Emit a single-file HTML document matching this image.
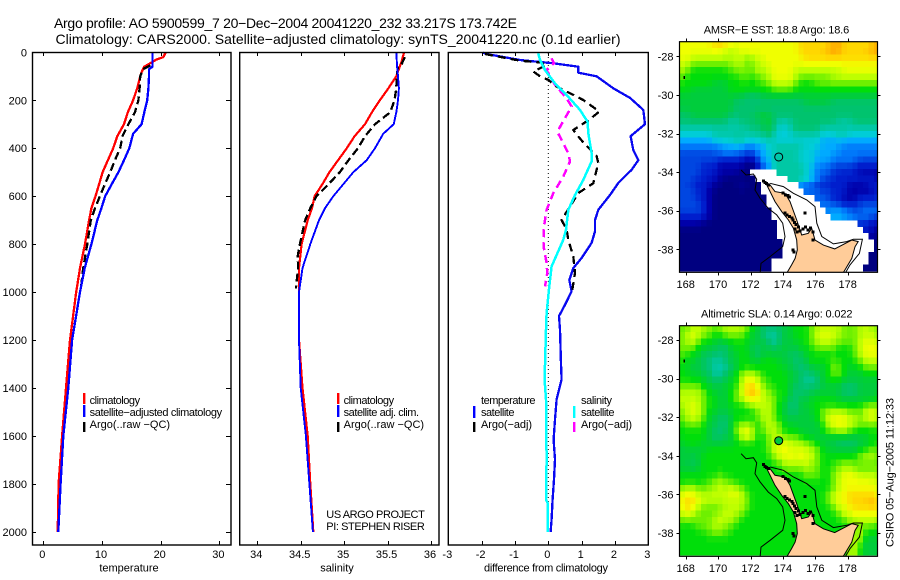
<!DOCTYPE html>
<html>
<head>
<meta charset="utf-8">
<title>Argo profile</title>
<style>
html,body{margin:0;padding:0;background:#fff;}
svg{display:block;}
text{font-family:"Liberation Sans",sans-serif;fill:#000;}
</style>
</head>
<body>
<svg id="fig" xmlns="http://www.w3.org/2000/svg" width="900" height="580" viewBox="0 0 900 580">
<rect x="0" y="0" width="900" height="580" fill="#fff"/>
<text x="54" y="28" font-size="14" textLength="463" lengthAdjust="spacing">Argo profile: AO 5900599_7 20−Dec−2004 20041220_232 33.217S 173.742E</text>
<text x="55.5" y="44" font-size="14" textLength="565" lengthAdjust="spacing">Climatology: CARS2000. Satellite−adjusted climatology: synTS_20041220.nc (0.1d earlier)</text>

<text x="129" y="571.5" font-size="11" text-anchor="middle">temperature</text>
<text x="337" y="571.5" font-size="11" text-anchor="middle">salinity</text>
<text x="546" y="571.5" font-size="11" text-anchor="middle" textLength="124" lengthAdjust="spacing">difference from climatology</text>

<g>
<rect x="83" y="393" width="2.4" height="11" fill="#f00"/>
<rect x="83" y="405" width="2.4" height="12" fill="#00f"/>
<rect x="83" y="422" width="2.4" height="10" fill="#000"/>
<text x="89.6" y="404" font-size="11" textLength="50.5" lengthAdjust="spacing">climatology</text>
<text x="89.6" y="416" font-size="11" textLength="132.5" lengthAdjust="spacing">satellite−adjusted climatology</text>
<text x="89.6" y="428" font-size="11" textLength="80.5" lengthAdjust="spacing">Argo(..raw −QC)</text>
</g>
<g>
<rect x="337" y="393" width="2.4" height="11" fill="#f00"/>
<rect x="337" y="405" width="2.4" height="12" fill="#00f"/>
<rect x="337" y="422" width="2.4" height="10" fill="#000"/>
<text x="343.6" y="404" font-size="11" textLength="50.5" lengthAdjust="spacing">climatology</text>
<text x="343.6" y="416" font-size="11" textLength="75.5" lengthAdjust="spacing">satellite adj. clim.</text>
<text x="343.6" y="428" font-size="11" textLength="80.5" lengthAdjust="spacing">Argo(..raw −QC)</text>
<text x="326.3" y="518" font-size="11" textLength="98.5" lengthAdjust="spacing">US ARGO PROJECT</text>
<text x="326.3" y="530" font-size="11" textLength="98.5" lengthAdjust="spacing">PI: STEPHEN RISER</text>
</g>
<g>
<rect x="473" y="406" width="2.4" height="12" fill="#00f"/>
<rect x="473" y="422" width="2.4" height="10" fill="#000"/>
<rect x="573" y="406" width="2.4" height="12" fill="#0ff"/>
<rect x="573" y="422" width="2.4" height="10" fill="#f0f"/>
<text x="481" y="404" font-size="11" textLength="54.5" lengthAdjust="spacing">temperature</text>
<text x="481" y="416" font-size="11" textLength="33.5" lengthAdjust="spacing">satellite</text>
<text x="481" y="428" font-size="11" textLength="51" lengthAdjust="spacing">Argo(−adj)</text>
<text x="581" y="404" font-size="11" textLength="31" lengthAdjust="spacing">salinity</text>
<text x="581" y="416" font-size="11" textLength="33.5" lengthAdjust="spacing">satellite</text>
<text x="581" y="428" font-size="11" textLength="51" lengthAdjust="spacing">Argo(−adj)</text>
</g>

<text x="703.7" y="33.5" font-size="11" textLength="145.5" lengthAdjust="spacing">AMSR−E SST: 18.8 Argo: 18.6</text>
<text x="701" y="317.5" font-size="11" textLength="151.5" lengthAdjust="spacing">Altimetric SLA: 0.14 Argo: 0.022</text>
<text transform="translate(893.5,547) rotate(-90)" font-size="11" textLength="149" lengthAdjust="spacing">CSIRO 05−Aug−2005 11:12:33</text>
</svg>

<script>
/* ---------- axis tick data ---------- */
var depthTicks = [0, 200, 400, 600, 800, 1000, 1200, 1400, 1600, 1800, 2000];
var tempTicks = [0, 10, 20, 30];
var salTicks = [34, 34.5, 35, 35.5, 36];
var salTickLabels = ['34', '34.5', '35', '35.5', '36'];
var diffTicks = [-3, -2, -1, 0, 1, 2, 3];
var lonTicks = [168, 170, 172, 174, 176, 178];
var latTicks = [-28, -30, -32, -34, -36, -38];

/* ---------- temperature profile ---------- */
var tempClimDepth = [0, 20, 30, 50, 60, 80, 100, 150, 200, 250, 300, 350, 400, 450, 500, 550, 600, 650, 700, 800, 900, 1000, 1200, 1400, 1600, 1800, 2000];
var tempClimValue = [20.85, 20.45, 19.3, 17.9, 17.2, 16.8, 16.5, 16.0, 15.3, 14.4, 13.75, 12.6, 11.9, 11, 10.1, 9.5, 8.9, 8.2, 7.8, 7.1, 6.25, 5.6, 4.55, 3.86, 3.2, 2.6, 2.45];
var tempSatDepth = [0, 60, 70, 100, 150, 200, 250, 300, 340, 400, 450, 500, 550, 600, 650, 700, 800, 900, 1000, 1200, 1400, 1600, 1800, 2000];
var tempSatValue = [18.6, 18.6, 18.0, 18.0, 17.9, 17.7, 17.2, 16.75, 15.3, 14.65, 13.75, 12.8, 11.65, 10.55, 9.9, 9.2, 8.2, 7.05, 6.25, 4.9, 4.26, 3.4, 2.95, 2.55];
var tempArgoDepth = [10, 50, 70, 100, 150, 200, 250, 300, 350, 400, 450, 500, 550, 600, 650, 700, 800, 900, 985];
var tempArgoValue = [18.6, 18.6, 17, 16.5, 16.4, 16.2, 15.6, 14.5, 13.5, 13.1, 12.2, 11.4, 10.5, 9.65, 8.8, 8.1, 7.5, 6.8, 6.4];

/* ---------- salinity profile ---------- */
var salClimDepth = [0, 40, 60, 100, 150, 200, 250, 300, 350, 400, 450, 500, 550, 600, 650, 700, 800, 900, 1000, 1200, 1400, 1600, 1800, 2000];
var salClimValue = [35.69, 35.66, 35.64, 35.60, 35.51, 35.41, 35.32, 35.24, 35.12, 35.03, 34.93, 34.83, 34.75, 34.66, 34.63, 34.58, 34.51, 34.48, 34.48, 34.48, 34.52, 34.58, 34.61, 34.645];
var salSatDepth = [0, 60, 100, 150, 200, 250, 300, 340, 400, 450, 500, 550, 600, 650, 700, 800, 900, 1000, 1200, 1400, 1600, 1800, 2000];
var salSatValue = [35.60, 35.61, 35.62, 35.63, 35.62, 35.60, 35.57, 35.45, 35.355, 35.26, 35.105, 34.99, 34.875, 34.78, 34.71, 34.61, 34.52, 34.48, 34.48, 34.50, 34.56, 34.60, 34.64];
var salArgoDepth = [20, 50, 60, 100, 150, 200, 250, 300, 350, 400, 450, 500, 550, 600, 650, 700, 800, 850, 900, 985];
var salArgoValue = [35.70, 35.66, 35.62, 35.605, 35.60, 35.58, 35.53, 35.355, 35.24, 35.16, 35.05, 34.95, 34.82, 34.68, 34.61, 34.55, 34.49, 34.465, 34.47, 34.445];

/* ---------- differences from climatology ---------- */
var diffTempSatDepth = [2, 7, 32, 46, 60, 85, 100, 150, 190, 240, 300, 350, 407, 450, 490, 545, 595, 657, 700, 747, 795, 858, 900, 950, 997, 1053, 1100, 1157, 1300, 1365, 1448, 1531, 1615, 1698, 1781, 1865, 1948, 2000];
var diffTempSatValue = [-1.95, -1.85, -0.85, 0.15, 0.9, 0.9, 1.45, 1.95, 2.45, 2.85, 2.9, 2.47, 2.55, 2.7, 2.5, 2.1, 1.85, 1.5, 1.4, 1.4, 1.3, 1.0, 0.75, 0.63, 0.7, 0.5, 0.32, 0.35, 0.38, 0.4, 0.25, 0.2, 0.16, 0.2, 0.17, 0.13, 0.1, 0.07];
var diffSalSatDepth = [4, 32, 74, 130, 178, 240, 290, 337, 420, 455, 532, 595, 657, 740, 782, 893, 976, 1087, 1157, 1365, 1448, 1698, 1865, 1880, 2000];
var diffSalSatValue = [-0.3, -0.25, -0.1, 0.2, 0.55, 0.95, 1.18, 1.2, 1.3, 1.3, 1.05, 0.8, 0.6, 0.53, 0.45, 0.1, 0.03, -0.05, -0.07, -0.11, -0.07, -0.05, -0.07, -0.02, -0.02];
var diffTempArgoDepth = [7, 35, 42, 53, 80, 100, 115, 143, 164, 199, 247, 279, 324, 351, 379, 432, 462, 546, 587, 643, 699, 740, 782, 851, 921, 990];
var diffTempArgoValue = [-1.9, -0.85, -0.25, -0.05, -0.45, -0.25, 0, 0.25, 0.55, 1.05, 1.53, 1.25, 0.75, 0.9, 1.07, 1.45, 1.5, 1.35, 0.9, 0.65, 0.4, 0.55, 0.6, 0.75, 0.8, 0.72];
var diffSalArgoDepth = [25, 46, 74, 136, 192, 226, 275, 331, 379, 421, 455, 518, 587, 657, 726, 810, 879, 921, 976];
var diffSalArgoValue = [0.1, 0.17, -0.05, 0.2, 0.55, 0.7, 0.5, 0.27, 0.45, 0.6, 0.65, 0.45, 0.15, -0.05, -0.13, -0.14, -0.05, -0.03, -0.1];

/* ---------- map data: colour level per grid cell, -1 = no data ---------- */
var sstLevels = [
[13,13,13,13,13,13,14,14,14,13,13,13,13,13,13,13,13,13,13,13,13,13,14,14,14,14,14,14,15,15,14,14,14,14,14,14,15],
[13,13,13,13,13,13,13,13,12,12,12,13,13,13,13,13,13,13,13,13,13,13,14,14,14,14,14,15,15,15,14,14,14,14,14,15,15],
[13,13,12,12,12,12,12,12,12,12,12,12,11,12,12,13,13,13,13,13,13,13,13,14,14,14,14,14,14,14,14,14,14,14,14,14,14],
[12,12,11,11,11,11,11,11,11,11,12,12,11,11,12,12,13,13,13,13,13,13,13,13,13,13,13,13,13,13,13,13,13,13,13,13,13],
[12,11,10,10,10,10,10,10,10,11,11,11,11,11,12,12,12,13,13,13,13,12,12,12,12,12,12,12,12,12,13,13,13,13,13,13,13],
[11,10,10,10,10,10,10,10,10,10,10,11,11,10,11,11,12,13,13,13,13,12,11,11,11,11,11,11,12,12,12,12,12,12,12,12,12],
[10,10,10,10,10,10,9,9,9,10,10,10,10,10,10,11,11,12,12,12,12,11,10,10,10,11,11,11,11,11,11,11,11,11,11,11,11],
[10,10,9,9,9,9,9,9,9,10,10,10,10,10,10,10,10,11,11,11,11,10,10,10,10,10,10,10,10,10,10,10,10,10,10,10,10],
[9,9,9,9,9,9,9,9,9,9,9,9,8,8,8,9,9,9,9,9,9,9,9,9,9,9,9,9,9,9,9,9,9,9,9,9,9],
[9,9,9,9,9,9,9,9,9,9,8,8,8,8,8,8,8,8,8,8,8,8,8,9,9,9,9,9,8,8,8,8,8,8,8,8,8],
[9,9,9,9,9,9,9,9,9,9,8,8,8,8,8,8,8,8,8,8,8,8,8,8,8,8,8,8,8,8,8,8,8,8,8,8,8],
[8,8,9,9,9,9,9,9,9,8,8,8,8,8,9,9,9,8,8,8,8,8,8,8,8,8,8,8,8,8,8,8,8,8,8,8,8],
[8,8,8,8,8,8,8,8,8,7,7,8,8,8,8,9,9,8,7,7,7,8,8,8,8,8,8,8,8,7,7,7,8,8,8,8,8],
[7,7,7,7,7,7,7,7,7,7,7,7,7,8,8,8,9,8,6,6,7,8,8,8,8,8,7,7,7,7,7,7,7,7,7,7,7],
[6,6,6,6,6,6,7,7,7,7,7,7,7,7,7,8,8,7,6,6,6,7,7,7,7,7,6,6,6,7,7,6,6,6,6,6,6],
[5,5,5,5,5,5,6,6,6,6,7,7,6,6,6,6,7,6,6,6,6,6,6,6,6,6,5,5,5,5,5,5,5,5,5,5,5],
[4,4,4,4,4,4,4,4,5,5,5,5,4,4,5,5,6,7,7,7,7,7,7,6,6,6,5,5,5,5,4,4,4,4,4,4,4],
[3,3,3,3,3,3,3,4,4,4,4,3,3,3,4,5,6,6,7,7,7,7,6,6,6,5,5,5,5,4,4,4,4,4,4,4,4],
[3,3,3,3,3,3,3,2,2,2,2,2,1,1,3,5,5,7,7,7,7,7,6,6,6,5,5,5,4,4,4,4,4,3,3,3,3],
[3,3,3,3,2,2,2,1,1,1,1,1,0,0,1,4,4,7,7,7,7,7,7,6,6,4,4,4,3,3,3,3,2,2,2,2,2],
[3,3,3,3,2,2,2,1,1,1,1,0,0,-1,-1,-1,-1,-1,7,7,7,7,7,6,5,4,4,3,3,2,2,2,2,1,1,1,1],
[3,3,3,2,2,2,1,1,0,0,0,0,0,0,-1,-1,-1,-1,-1,-1,7,7,7,7,6,4,3,3,2,2,2,2,2,2,2,2,1],
[3,3,2,2,2,1,1,0,0,0,0,1,0,0,0,-1,-1,-1,-1,-1,-1,-1,4,3,3,3,2,2,2,2,2,1,1,1,1,2,2],
[3,3,3,2,2,1,0,0,0,0,0,0,0,0,0,-1,-1,-1,-1,-1,-1,-1,-1,4,4,3,3,3,2,2,2,1,1,1,1,1,2],
[3,3,3,2,2,1,0,0,0,0,0,0,0,0,0,0,-1,-1,-1,-1,-1,-1,-1,-1,-1,4,3,3,2,2,1,1,1,2,2,2,2],
[3,3,3,3,2,1,0,0,0,0,0,0,0,0,0,0,-1,-1,-1,-1,-1,-1,-1,-1,-1,-1,4,4,3,3,2,2,2,3,3,3,3],
[3,3,3,3,2,1,0,0,0,0,0,0,0,0,0,0,0,-1,-1,-1,-1,-1,-1,-1,-1,-1,-1,4,5,5,4,4,3,3,4,4,4],
[2,2,2,2,2,1,0,0,0,0,0,0,0,0,0,0,0,-1,-1,-1,-1,-1,-1,-1,-1,-1,-1,-1,5,5,5,4,4,4,4,3,3],
[1,1,1,1,0,0,0,0,0,0,0,0,0,0,0,0,0,0,-1,-1,-1,-1,-1,-1,-1,-1,-1,-1,-1,-1,-1,-1,-1,2,2,2,1],
[0,0,0,0,0,0,0,0,0,0,0,0,0,0,0,0,0,0,-1,-1,-1,-1,-1,-1,-1,-1,-1,-1,-1,-1,-1,-1,-1,-1,2,1,1],
[0,0,0,0,0,0,0,0,0,0,0,0,0,0,0,0,0,0,-1,-1,-1,-1,-1,-1,-1,-1,-1,-1,-1,-1,-1,-1,-1,-1,-1,1,0],
[0,0,0,0,0,0,0,0,0,0,0,0,0,0,0,0,0,0,0,-1,-1,-1,-1,-1,-1,-1,-1,-1,-1,-1,-1,-1,-1,-1,-1,-1,0],
[0,0,0,0,0,0,0,0,0,0,0,0,0,0,0,0,0,0,0,-1,-1,-1,-1,-1,-1,-1,-1,-1,-1,-1,-1,-1,-1,-1,-1,-1,0],
[0,0,0,0,0,0,0,0,0,0,0,0,0,0,0,0,0,0,0,-1,-1,-1,-1,-1,-1,-1,-1,-1,-1,-1,-1,-1,-1,-1,-1,0,0],
[0,0,0,0,0,0,0,0,0,0,0,0,0,0,0,0,0,-1,-1,-1,-1,-1,-1,-1,-1,-1,-1,-1,-1,-1,-1,-1,-1,-1,-1,0,0],
[0,0,0,0,0,0,0,0,0,0,0,0,0,0,0,0,0,-1,-1,-1,-1,-1,-1,-1,-1,-1,-1,-1,-1,-1,-1,-1,-1,-1,0,0,0]
];
var slaLevels = [
[11,11,12,12,12,11,11,11,12,12,12,12,11,10,9,8,8,8,8,9,9,10,10,10,11,12,12,12,12,12,11,11,11,12,12,12,11],
[11,12,13,12,11,11,10,10,11,11,11,11,10,9,9,8,7,7,8,9,9,10,10,10,11,12,13,13,12,12,11,11,11,12,12,12,12],
[11,12,12,11,10,10,9,9,9,10,10,10,10,9,9,9,8,7,8,9,9,9,10,10,11,12,12,12,12,11,11,11,11,12,13,13,12],
[11,11,11,10,9,9,9,8,8,9,10,10,9,9,8,9,9,8,9,9,9,9,9,10,10,11,11,11,11,10,10,10,11,12,13,13,13],
[11,10,10,9,9,8,8,8,8,9,9,10,10,9,8,9,9,9,9,9,8,8,9,9,10,10,10,10,10,10,10,10,11,12,13,13,13],
[10,10,9,9,8,8,7,7,8,9,9,10,10,9,9,10,10,10,9,9,9,8,8,9,10,10,10,10,11,10,10,10,10,11,12,12,12],
[10,9,9,9,8,8,7,7,7,8,9,10,10,10,10,10,10,10,10,9,9,8,8,8,9,9,9,10,11,11,10,9,10,10,11,11,11],
[10,10,9,9,9,8,7,7,8,9,10,11,12,12,11,10,10,10,10,10,9,9,8,8,8,9,9,10,11,11,10,9,9,9,10,10,10],
[10,10,10,10,9,9,8,8,9,9,10,12,13,13,12,11,10,10,10,10,9,9,8,7,7,8,9,10,10,10,9,9,9,9,9,9,9],
[11,11,11,11,10,9,9,9,9,10,10,12,14,14,13,11,11,10,10,10,9,8,8,8,8,8,9,9,9,9,8,8,8,9,9,9,9],
[12,12,12,12,11,10,9,9,9,10,11,12,14,15,14,12,11,11,10,10,9,8,8,8,9,9,9,9,9,9,8,8,8,9,9,9,9],
[12,12,12,12,11,10,10,9,9,10,11,12,13,13,13,12,12,11,10,10,8,8,9,9,9,10,10,10,10,9,9,9,9,9,9,9,10],
[12,12,13,12,11,10,10,9,9,10,10,10,11,12,12,12,12,11,10,9,8,8,9,9,10,10,10,10,10,10,10,10,10,10,11,11,11],
[11,12,13,12,11,10,9,9,9,9,10,10,10,10,11,12,12,11,10,9,8,8,9,9,9,10,11,12,12,12,12,11,11,11,12,13,12],
[11,12,12,12,11,9,9,8,8,9,10,10,10,10,11,12,12,11,10,9,9,9,9,9,9,10,11,12,13,13,13,12,12,11,12,13,12],
[10,11,11,11,10,9,9,8,8,9,11,11,12,11,10,11,12,12,11,10,9,9,9,9,9,9,10,12,13,13,13,12,12,11,11,11,11],
[10,10,10,10,10,9,8,8,8,9,11,13,13,12,10,11,12,12,11,10,10,10,9,9,9,9,10,11,11,12,12,11,10,10,10,10,10],
[10,10,10,10,10,9,8,8,9,9,10,12,13,12,10,10,11,12,12,11,11,11,10,10,9,9,9,9,9,9,9,9,9,9,9,10,10],
[9,10,10,10,9,9,9,9,9,9,10,10,10,10,10,10,11,12,13,13,12,12,12,11,11,10,9,9,9,8,8,8,8,9,9,10,10],
[9,9,9,9,9,10,10,10,10,10,10,10,10,10,10,10,11,12,13,13,13,12,13,12,12,11,10,9,9,9,9,9,9,10,10,11,11],
[9,9,9,9,10,10,10,10,10,10,10,10,10,10,10,10,10,12,12,13,13,13,13,13,12,11,10,10,10,10,10,10,10,11,12,12,11],
[9,9,8,9,10,10,10,10,10,10,10,10,10,10,10,10,10,10,11,12,12,12,12,12,12,11,10,10,10,11,11,11,11,11,11,11,11],
[9,9,9,9,10,10,10,10,10,10,10,10,10,10,10,10,10,10,10,11,11,11,11,12,11,11,10,10,11,11,12,12,11,11,11,11,11],
[10,10,10,10,10,10,10,11,10,10,10,10,10,10,10,10,10,10,10,10,10,10,10,11,11,11,10,10,11,12,13,13,13,12,12,12,12],
[10,10,10,10,10,11,11,12,11,11,10,10,10,10,10,10,10,10,10,10,10,10,10,10,10,10,10,10,11,12,13,13,13,13,13,13,12],
[11,12,12,11,11,11,12,12,12,12,12,11,10,10,10,10,10,10,10,10,10,10,10,10,10,10,10,10,11,12,13,13,13,13,13,13,13],
[13,13,13,12,12,12,12,12,12,13,13,12,11,10,10,10,10,10,10,10,10,10,10,10,10,10,10,11,12,13,13,14,14,14,14,14,13],
[13,14,14,13,12,12,12,12,12,12,12,12,11,10,10,10,10,10,10,10,10,10,10,10,10,10,10,11,12,13,13,14,14,14,14,15,14],
[13,14,13,12,11,11,11,11,12,12,12,12,11,10,10,10,10,10,10,10,10,10,10,10,10,10,10,10,11,12,13,13,14,14,14,14,14],
[12,13,12,11,11,11,11,12,12,12,12,11,10,10,10,10,10,10,10,10,10,10,10,10,10,10,10,10,10,11,12,13,13,13,13,13,13],
[11,11,11,11,11,11,12,12,12,12,11,10,10,10,10,10,10,10,10,10,10,10,10,10,10,10,10,10,10,10,11,11,12,12,12,12,12],
[10,10,10,11,11,11,12,12,11,11,10,10,10,10,10,10,10,10,10,10,10,10,10,10,10,10,10,10,10,10,10,11,11,11,11,11,10],
[10,10,10,10,10,11,11,11,11,10,10,10,10,10,10,10,10,10,10,10,10,10,10,10,10,10,10,10,10,10,10,10,12,12,10,10,10],
[10,10,10,10,10,10,10,10,10,10,10,10,10,10,10,10,10,10,10,10,10,10,10,10,10,10,10,10,10,10,10,10,12,12,9,9,9],
[10,10,10,10,10,10,10,10,10,10,10,10,10,10,10,10,10,10,10,10,10,10,10,10,10,10,10,10,10,10,10,12,12,10,9,9,9],
[10,10,10,10,10,10,10,10,10,10,10,10,10,10,10,10,10,10,10,10,10,10,10,10,10,10,10,10,10,10,10,12,12,10,9,9,9]
];
var profileLon = [173.742];
var profileLat = [-33.217];
var landLon = [172.90,173.21,173.51,173.93,174.34,174.65,174.85,174.89,174.75,174.54,174.23,177.70,177.83,178.25,178.45,178.65,178.25,177.20,176.50,175.98,175.78,175.57,175.16,174.85,174.44,174.13,173.51,173.21];
var landLat = [-34.49,-35.01,-35.53,-36.05,-36.48,-36.91,-37.52,-38.03,-38.47,-38.81,-39.25,-39.25,-39.07,-38.47,-37.87,-37.60,-37.52,-37.98,-37.78,-37.52,-36.91,-37.17,-37.26,-36.48,-35.53,-35.10,-35.01,-34.67];
var westContourLon = [171.42,171.72,172.18,172.38,172.28,172.59,173.10,173.62,173.99,174.13,173.99,173.21,172.65,172.59];
var westContourLat = [-33.89,-34.15,-34.10,-34.37,-34.93,-35.36,-35.88,-36.22,-36.65,-37.34,-37.86,-38.38,-38.73,-39.25];
var eastContourLon = [173.21,174.03,174.65,175.47,175.98,176.09,176.40,177.12,177.94,178.35,178.91,178.72,178.14,177.84];
var eastContourLat = [-34.58,-34.75,-35.10,-35.44,-35.79,-36.65,-37.34,-37.72,-37.60,-37.48,-37.48,-38.21,-38.81,-39.25];
var isletLon = [167.96,172.80,172.90,173.00,173.10,174.00,174.15,174.30,174.40,174.13,174.25,174.40,174.55,174.62,174.72,174.82,174.95,175.05,174.75,174.88,175.24,175.40,175.55,175.70,175.86,175.36,175.86,174.62,174.70];
var isletLat = [-29.09,-34.45,-34.55,-34.60,-34.67,-35.08,-35.18,-35.22,-35.30,-36.12,-36.22,-36.30,-36.38,-36.48,-36.60,-36.72,-36.85,-37.05,-36.95,-37.10,-36.95,-36.84,-37.00,-36.90,-37.10,-36.12,-37.52,-38.03,-38.15];

/* ---------- rendering ---------- */
var NS = 'http://www.w3.org/2000/svg';
var svg = document.getElementById('fig');
var paletteRgb = [[0,0,128],[0,0,170],[0,30,205],[0,70,225],[0,120,250],[0,170,255],[0,205,215],[0,200,165],[0,195,110],[0,205,60],[0,222,10],[110,240,0],[190,255,0],[240,255,0],[255,215,0],[255,170,0]];

function add(parent, tag, attrs) {
  var el = document.createElementNS(NS, tag);
  for (var k in attrs) el.setAttribute(k, attrs[k]);
  parent.appendChild(el);
  return el;
}
function group(name) {
  var g = add(svg, 'g', {});
  
  
  return g;
}
function label(parent, name, x, y, str, anchor) {
  var t = add(parent, 'text', {x: x, y: y, 'font-size': 11, 'text-anchor': anchor});
  t.textContent = str;
  
  
  return t;
}
function hairline(parent, name, x1, y1, x2, y2) {
  var l = add(parent, 'line', {x1: x1, y1: y1, x2: x2, y2: y2, stroke: '#000', 'stroke-width': 1, 'shape-rendering': 'crispEdges'});
  
  
  return l;
}

/* profile axes */
var depthY = function (d) { return 52.3 + d * 0.2398; };
var tempX = function (v) { return 43.3 + v * 5.87; };
var salX = function (v) { return 257.3 + (v - 34) * 86.85; };
var diffX = function (v) { return 548.3 + v * 33.33; };

function profile(parent, name, depths, values, xFn, color, width, dash) {
  var pts = depths.map(function (d, i) { return xFn(values[i]).toFixed(1) + ',' + depthY(d).toFixed(1); }).join(' ');
  var p = add(parent, 'polyline', {points: pts, fill: 'none', stroke: color, 'stroke-width': width, 'stroke-linejoin': 'round', 'shape-rendering': 'crispEdges'});
  if (dash) p.setAttribute('stroke-dasharray', dash);
  
  
  return p;
}
function panelFrame(parent, name, x1, x2) {
  var r = add(parent, 'rect', {x: x1, y: 52.5, width: x2 - x1, height: 492.5, fill: 'none', stroke: '#000', 'stroke-width': 1.4});
  
  
}
function xTicks(parent, ticks, labels, xFn) {
  ticks.forEach(function (t, i) {
    var x = Math.round(xFn(t)) + 0.5;
    hairline(parent, 'x-tick-top', x, 52, x, 56);
    hairline(parent, 'x-tick-bottom', x, 545, x, 541);
    label(parent, 'x-tick-label', xFn(t) - 1, 558, labels[i], 'middle');
  });
}

/* panel 1: temperature */
var g1 = group('temperature-panel');
profile(g1, 'temperature-climatology-line', tempClimDepth, tempClimValue, tempX, '#ff0000', 2.3);
profile(g1, 'temperature-argo-line', tempArgoDepth, tempArgoValue, tempX, '#000000', 2.3, '8 4');
profile(g1, 'temperature-satellite-line', tempSatDepth, tempSatValue, tempX, '#0000ff', 2.3);
panelFrame(g1, 'temperature-plot-frame', 32.5, 231);
xTicks(g1, tempTicks, tempTicks.map(String), tempX);
depthTicks.forEach(function (d) {
  var y = Math.round(depthY(d)) + 0.5;
  hairline(g1, 'depth-tick-left', 32, y, 36, y);
  hairline(g1, 'depth-tick-right', 231, y, 226, y);
  label(g1, 'depth-tick-label', 27, depthY(d) + 4, String(d), 'end');
});

/* panel 2: salinity */
var g2 = group('salinity-panel');
profile(g2, 'salinity-climatology-line', salClimDepth, salClimValue, salX, '#ff0000', 2.2);
profile(g2, 'salinity-argo-line', salArgoDepth, salArgoValue, salX, '#000000', 2.3, '8 4');
profile(g2, 'salinity-satellite-line', salSatDepth, salSatValue, salX, '#0000ff', 1.9);
panelFrame(g2, 'salinity-plot-frame', 239.7, 439);
xTicks(g2, salTicks, salTickLabels, salX);

/* panel 3: differences */
var g3 = group('difference-panel');
var zero = add(g3, 'line', {x1: diffX(0), y1: 53, x2: diffX(0), y2: 533, stroke: '#000', 'stroke-width': 1, 'stroke-dasharray': '1 3'});


profile(g3, 'diff-temperature-satellite-line', diffTempSatDepth, diffTempSatValue, diffX, '#0808f0', 2.3);
profile(g3, 'diff-temperature-argo-line', diffTempArgoDepth, diffTempArgoValue, diffX, '#000000', 2.3, '8 5');
profile(g3, 'diff-salinity-argo-line', diffSalArgoDepth, diffSalArgoValue, diffX, '#ff00ff', 2.5, '8 5');
profile(g3, 'diff-salinity-satellite-line', diffSalSatDepth, diffSalSatValue, diffX, '#00ffff', 2.5);
panelFrame(g3, 'difference-plot-frame', 448.3, 648.3);
xTicks(g3, diffTicks, diffTicks.map(String), diffX);

/* maps */
var lonX = function (lon) { return 685.7 + (lon - 168) * 16.2; };
var MAP_LEFT = 679.5, MAP_RIGHT = 877.5, ROW_H = 6.37, COL_W = 5.4;

function polyPoints(lons, lats, latY) {
  return lons.map(function (lon, i) { return lonX(lon).toFixed(1) + ',' + latY(lats[i]).toFixed(1); }).join(' ');
}
/* Colour of a cell: blends the cell's level with its valid 4-neighbours,
   which reproduces the smooth gradients of the gridded field. */
function cellColor(levels, r, c) {
  var sum = levels[r][c] * 2, weight = 2;
  [[r - 1, c], [r + 1, c], [r, c - 1], [r, c + 1]].forEach(function (n) {
    var row = levels[n[0]];
    if (row && row[n[1]] !== undefined && row[n[1]] >= 0) { sum += row[n[1]]; weight += 1; }
  });
  var v = sum / weight;
  var lo = Math.floor(v), hi = Math.min(lo + 1, paletteRgb.length - 1), f = v - lo;
  var rgb = paletteRgb[lo].map(function (ch, i) { return Math.round(ch + (paletteRgb[hi][i] - ch) * f); });
  return 'rgb(' + rgb.join(',') + ')';
}
function drawMap(name, levels, top, bottom, lat28Y, markerFill, clipId) {
  var g = group(name);
  var latY = function (lat) { return lat28Y + (-28 - lat) * 19.3; };
  var defs = add(g, 'defs', {});
  var clip = add(defs, 'clipPath', {id: clipId});
  add(clip, 'rect', {x: MAP_LEFT, y: top, width: MAP_RIGHT - MAP_LEFT, height: bottom - top});
  var body = add(g, 'g', {'clip-path': 'url(#' + clipId + ')'});
  
  
  levels.forEach(function (row, r) {
    row.forEach(function (v, c) {
      if (v < 0) return;
      var cell = add(body, 'rect', {x: (MAP_LEFT + c * COL_W).toFixed(2), y: (top + r * ROW_H).toFixed(2), width: COL_W + 0.4, height: ROW_H + 0.4, fill: cellColor(levels, r, c), 'shape-rendering': 'crispEdges'});
      
      
    });
  });
  var land = add(body, 'polygon', {points: polyPoints(landLon, landLat, latY), fill: '#ffcc99', stroke: '#000', 'stroke-width': 1});
  
  
  var wc = add(body, 'polyline', {points: polyPoints(westContourLon, westContourLat, latY), fill: 'none', stroke: '#000', 'stroke-width': 1});
  
  
  var ec = add(body, 'polyline', {points: polyPoints(eastContourLon, eastContourLat, latY), fill: 'none', stroke: '#000', 'stroke-width': 1});
  
  
  isletLon.forEach(function (lon, i) {
    var s = add(body, 'rect', {x: lonX(lon) - 1.5, y: latY(isletLat[i]) - 1.5, width: i === 0 ? 1.5 : 3, height: 3, fill: '#000', 'shape-rendering': 'crispEdges'});
    
    
  });
  var marker = add(g, 'circle', {cx: lonX(profileLon[0]), cy: latY(profileLat[0]), r: 4, fill: markerFill, stroke: '#000', 'stroke-width': 1});
  
  
  var frame = add(g, 'rect', {x: MAP_LEFT, y: top, width: MAP_RIGHT - MAP_LEFT, height: bottom - top, fill: 'none', stroke: '#000', 'stroke-width': 1.2});
  
  
  lonTicks.forEach(function (lon) {
    var x = Math.round(lonX(lon)) + 0.5;
    hairline(g, 'lon-tick-top', x, top - 3, x, top);
    hairline(g, 'lon-tick-bottom', x, bottom, x, bottom + 3);
    label(g, 'lon-tick-label', lonX(lon), bottom + 15.5, String(lon), 'middle');
  });
  latTicks.forEach(function (lat) {
    var y = Math.round(latY(lat)) + 0.5;
    hairline(g, 'lat-tick-left', MAP_LEFT - 3, y, MAP_LEFT, y);
    hairline(g, 'lat-tick-right', MAP_RIGHT, y, MAP_RIGHT + 3, y);
    label(g, 'lat-tick-label', 673.5, latY(lat) + 4, String(lat), 'end');
  });
}
drawMap('sst-map', sstLevels, 41.7, 272.3, 56.3, 'none', 'clip-sst');
drawMap('sla-map', slaLevels, 325.7, 556.3, 340, '#00c83c', 'clip-sla');
</script>
</body>
</html>
